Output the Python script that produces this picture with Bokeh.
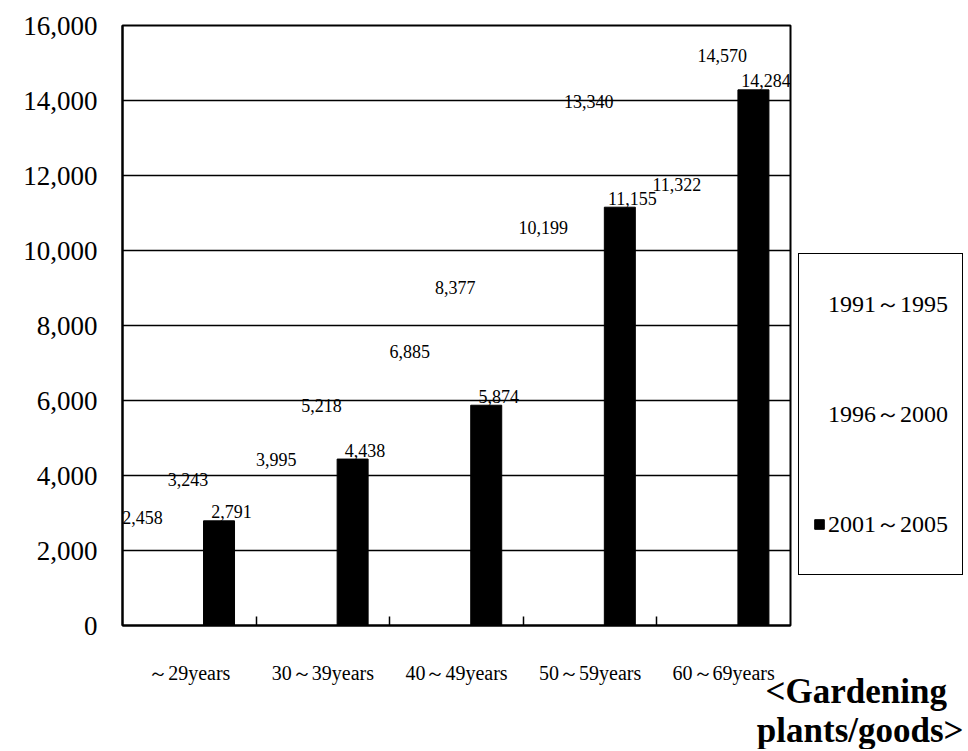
from bokeh.plotting import figure
from bokeh.models import (ColumnDataSource, FixedTicker, NumeralTickFormatter, Legend,
                          LegendItem, Title, Range1d)
from bokeh.core.properties import value
from bokeh.embed import file_html
from bokeh.resources import INLINE

# ---- data ----
categories = ["～29years", "30～39years", "40～49years", "50～59years", "60～69years"]
series_names = ["1991～1995", "1996～2000", "2001～2005"]
s1991_1995 = [2458, 3995, 6885, 10199, 11322]
s1996_2000 = [3243, 5218, 8377, 13340, 14570]
s2001_2005 = [2791, 4438, 5874, 11155, 14284]
y_ticks = [0, 2000, 4000, 6000, 8000, 10000, 12000, 14000, 16000]
caption = "\u00a0<Gardening\nplants/goods>"

# ---- layout constants ----
FONT = "Liberation Serif"
bar_w = 0.232
bar_offsets = [-0.242, -0.01, 0.2225]
label_x_offsets = [-0.35, -0.01, 0.316]
label_y_offsets = [-16, -24, -9]

n = len(categories)
centers = [i + 0.5 for i in range(n)]

p = figure(frame_width=668, frame_height=600,
           x_range=Range1d(0, n), y_range=Range1d(0, 16000),
           output_backend="svg", toolbar_location=None,
           min_border_left=122, min_border_top=25,
           min_border_right=176, min_border_bottom=124)

p.background_fill_color = "white"
p.border_fill_color = "white"
p.outline_line_color = "black"
p.outline_line_width = 2

renderers = []
all_series = [s1991_1995, s1996_2000, s2001_2005]
for k, vals in enumerate(all_series):
    src = ColumnDataSource(dict(
        x=[c + bar_offsets[k] for c in centers],
        top=vals,
        lx=[c + label_x_offsets[k] for c in centers],
        txt=[f"{v:,}" for v in vals],
    ))
    if k == 2:
        r = p.vbar(x="x", top="top", width=bar_w, source=src,
                   fill_color="black", line_color="black")
    else:
        r = p.vbar(x="x", top="top", width=bar_w, source=src,
                   fill_alpha=0, line_alpha=0)
    renderers.append(r)
    p.text(x="lx", y="top", text="txt", source=src,
           text_font=value(FONT), text_font_size="18px", text_color="black",
           text_align="center", text_baseline="alphabetic",
           y_offset=label_y_offsets[k])

# ---- axes ----
xa = p.xaxis[0]
xa.ticker = FixedTicker(ticks=centers, minor_ticks=[1, 2, 3, 4])
xa.major_label_overrides = {c: cat for c, cat in zip(centers, categories)}
xa.major_tick_in = 0
xa.major_tick_out = 0
xa.minor_tick_in = 9
xa.minor_tick_out = 0
xa.minor_tick_line_color = "black"
xa.minor_tick_line_width = 1.5
xa.axis_line_color = "black"
xa.axis_line_width = 2
xa.major_label_standoff = 36
xa.major_label_text_font = FONT
xa.major_label_text_font_size = "20px"
xa.major_label_text_color = "black"

ya = p.yaxis[0]
ya.ticker = FixedTicker(ticks=y_ticks)
ya.formatter = NumeralTickFormatter(format="0,0")
ya.major_tick_in = 0
ya.major_tick_out = 0
ya.minor_tick_line_color = None
ya.axis_line_color = "black"
ya.axis_line_width = 2
ya.major_label_standoff = 25
ya.major_label_text_font = FONT
ya.major_label_text_font_size = "27px"
ya.major_label_text_color = "black"

p.xgrid.visible = False
p.ygrid.ticker = FixedTicker(ticks=y_ticks)
p.ygrid.grid_line_color = "black"
p.ygrid.grid_line_width = 1.5

# ---- legend (right panel) ----
legend = Legend(items=[LegendItem(label=series_names[k], renderers=[renderers[k]]) for k in range(3)],
                location=(8, 50))
legend.border_line_color = "black"
legend.border_line_alpha = 1
legend.border_line_width = 1.5
legend.background_fill_color = "white"
legend.background_fill_alpha = 1
legend.label_text_font = FONT
legend.label_text_font_size = "24px"
legend.label_text_color = "black"
legend.glyph_width = 12
legend.glyph_height = 12
legend.label_standoff = 3
legend.padding = 14
legend.spacing = 38
legend.label_height = 72
legend.margin = 0
p.add_layout(legend, "right")

# ---- caption (below) ----
cap = Title(text=caption, align="right", vertical_align="top", standoff=-30, offset=-173,
            text_font=FONT, text_font_size="35px", text_font_style="bold", text_color="black")
p.add_layout(cap, "below")

open("out.html", "w").write(file_html(p, INLINE))
